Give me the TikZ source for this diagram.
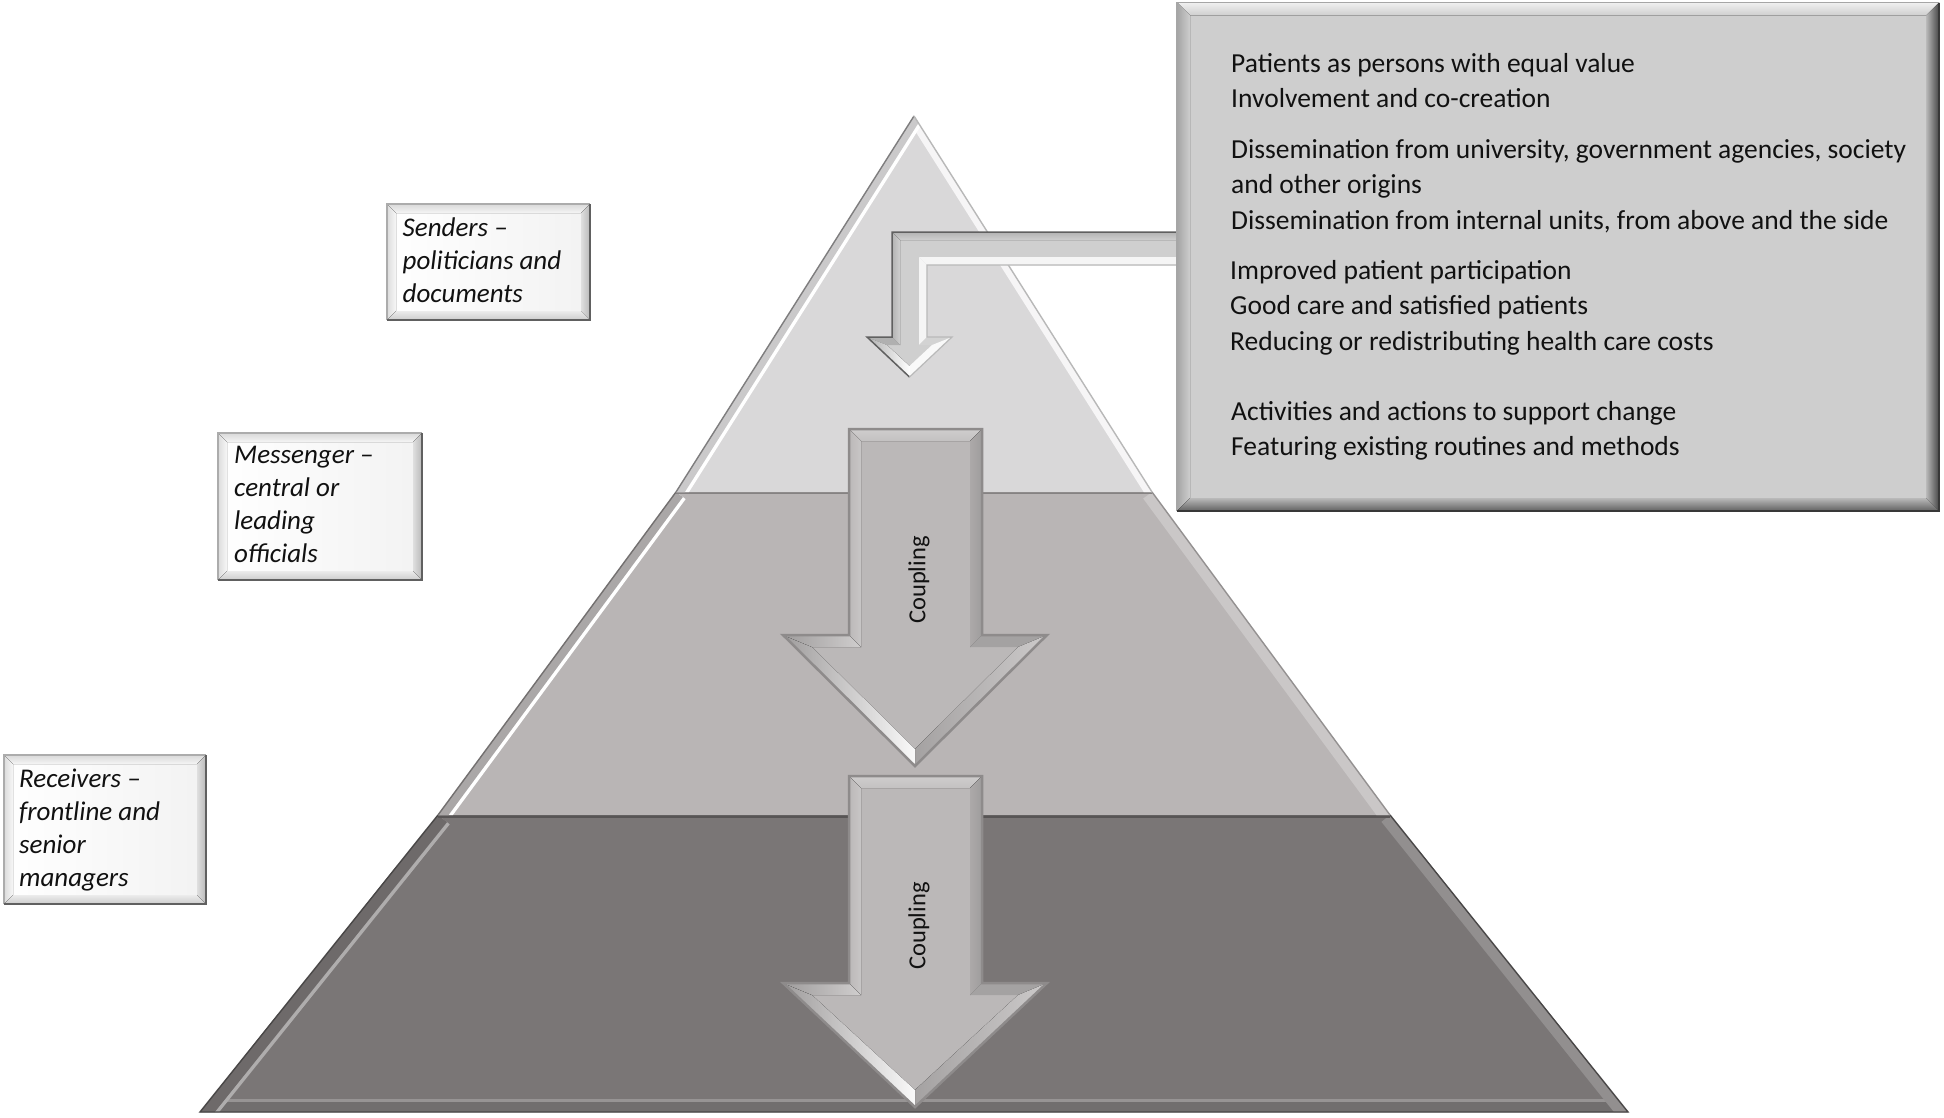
\documentclass[tikz,border=0pt]{standalone}
\usepackage{fontspec}
\setmainfont{Carlito}
\usetikzlibrary{calc}
\definecolor{tierA}{HTML}{D9D8D9}
\definecolor{tierB}{HTML}{B9B5B5}
\definecolor{tierC}{HTML}{7A7676}
\definecolor{boxface}{HTML}{CECECE}
\definecolor{bentface}{HTML}{CFCFCF}
\definecolor{arrface}{HTML}{BBB8B8}
\definecolor{arrline}{HTML}{8E8B8B}
\definecolor{inktext}{HTML}{111111}

% bevelled rectangle: x1 y1 (top-left) x2 y2 (bottom-right) d
\newcommand\bevelrect[5]{%
  \fill[bvface] (#1,#2) rectangle (#3,#4);
  \fill[bvtop] (#1,#2) -- (#3,#2) -- ({#3-#5},{#2+#5}) -- ({#1+#5},{#2+#5}) -- cycle;
  \fill[bvleft] (#1,#2) -- ({#1+#5},{#2+#5}) -- ({#1+#5},{#4-#5}) -- (#1,#4) -- cycle;
  \fill[bvright] (#3,#2) -- ({#3-#5},{#2+#5}) -- ({#3-#5},{#4-#5}) -- (#3,#4) -- cycle;
  \fill[bvbottom] (#1,#4) -- ({#1+#5},{#4-#5}) -- ({#3-#5},{#4-#5}) -- (#3,#4) -- cycle;
  \draw[bvlineA] (#1,#4) -- (#1,#2) -- (#3,#2);
  \draw[bvlineB] (#3,#2) -- (#3,#4) -- (#1,#4);
}

% coupling arrow: top, head base, tip
\newcommand\couplingarrow[3]{%
  \fill[arrface] (849,#1) -- (982,#1) -- (982,#2) -- (1047,#2) -- (915,#3) -- (783,#2) -- (849,#2) -- cycle;
  \fill[top color=arrface!70!white, bottom color=arrface!88!white] (849,#1) -- (982,#1) -- (970,{#1+12}) -- (861,{#1+12}) -- cycle;
  \fill[left color=arrface, middle color=white!96!arrface, right color=arrface!80!white] (849,#1) -- (861,{#1+12}) -- (861,{#2+12}) -- (849,#2) -- cycle;
  \fill[left color=arrface!92!black, right color=arrface!85!black] (982,#1) -- (970,{#1+12}) -- (970,{#2+12}) -- (982,#2) -- cycle;
  \fill[arrface!88!black] (982,#2) -- (1047,#2) -- (1018,{#2+12}) -- (970,{#2+12}) -- cycle;
  \fill[left color=arrface!88!black, right color=arrface!75!white] (1047,#2) -- (915,#3) -- (915,{#3-17}) -- (1018,{#2+12}) -- cycle;
  \fill[left color=arrface!85!black, right color=white!92!arrface] (783,#2) -- (915,#3) -- (915,{#3-17}) -- (812,{#2+12}) -- cycle;
  \fill[left color=arrface!85!black, right color=arrface!70!white] (783,#2) -- (849,#2) -- (861,{#2+12}) -- (812,{#2+12}) -- cycle;
  \draw[arrline, line width=2.5pt, line join=miter] (849,#1) -- (982,#1) -- (982,#2) -- (1047,#2) -- (915,#3) -- (783,#2) -- (849,#2) -- cycle;
}

\begin{document}
\begin{tikzpicture}[x=1pt,y=-1pt,
  labeltext/.style={anchor=base west, inner sep=0pt, font=\fontsize{27}{33}\selectfont\itshape, text=inktext},
  boxtext/.style={anchor=base west, inner sep=0pt, font=\fontsize{27.5}{35}\selectfont, text=inktext},
  couptext/.style={rotate=90, inner sep=0pt, font=\fontsize{24.5}{29}\selectfont, text=inktext},
  tierline/.style={line width=1.4pt, line join=miter},
]
\useasboundingbox (0,0) rectangle (1944,1117);
\fill[white] (0,0) rectangle (1944,1117);

% ---------- pyramid ----------
\coordinate (apex) at (914,116);
\coordinate (t1l) at (676,492);
\coordinate (t1r) at (1152,492);
\coordinate (t2l) at (438,815);
\coordinate (t2r) at (1390,815);
\coordinate (bl) at (200,1112);
\coordinate (br) at (1628,1112);

% tier 3 (bottom)
\begin{scope}
  \clip (t2l) -- (t2r) -- (br) -- (bl) -- cycle;
  \fill[tierC] (t2l) -- (t2r) -- (br) -- (bl) -- cycle;
  \draw[line width=26pt, tierC!78!white] (bl) -- (br);
  \draw[line width=20pt, tierC!93!black] (bl) -- (br);
  \draw[line width=22pt, tierC!82!white] (br) -- (t2r);
  \draw[line width=30pt, tierC!60!white] (bl) -- (t2l);
  \draw[line width=23pt, tierC!90!black] (bl) -- (t2l);
  \draw[line width=6pt, tierC!72!black] (t2l) -- (t2r);
\end{scope}
\draw[tierline, tierC!60!black] (t2l) -- (bl) -- (br) -- (t2r);

% tier 2 (middle)
\begin{scope}
  \clip (t1l) -- (t1r) -- (t2r) -- (t2l) -- cycle;
  \fill[tierB] (t1l) -- (t1r) -- (t2r) -- (t2l) -- cycle;
  \draw[line width=22pt, tierB!75!white] (t2r) -- (t1r);
  \draw[line width=24pt, white] (t2l) -- (t1l);
  \draw[line width=17pt, tierB!92!black] (t2l) -- (t1l);
  \draw[line width=4pt, tierB!72!black] (t1l) -- (t1r);
\end{scope}
\draw[tierline, tierB!62!black] (t1l) -- (t2l);
\draw[tierline, tierB!80!black] (t1r) -- (t2r);

% tier 1 (top)
\begin{scope}
  \clip (apex) -- (t1r) -- (t1l) -- cycle;
  \fill[tierA] (apex) -- (t1r) -- (t1l) -- cycle;
  \draw[line width=14pt, white!75!tierA] (t1r) -- (apex);
  \draw[line width=22pt, white] (t1l) -- (apex);
  \draw[line width=15pt, tierA!93!black] (t1l) -- (apex);
\end{scope}
\draw[tierline, tierA!58!black] (t1l) -- (apex);
\draw[tierline, tierA!85!black] (apex) -- (t1r);

% ---------- bent arrow from the box ----------
\fill[bentface] (1177,232) -- (892,232) -- (892,337) -- (867,337) -- (909.5,377) -- (952,337) -- (927,337) -- (927,265) -- (1177,265) -- cycle;
\fill[top color=gray!60, bottom color=bentface] (1177,232) -- (892,232) -- (900,240) -- (1177,240) -- cycle;
\fill[left color=gray!60, right color=bentface] (892,232) -- (900,240) -- (900,345) -- (892,337) -- cycle;
\fill[white!80!bentface] (1177,265) -- (927,265) -- (919,257) -- (1177,257) -- cycle;
\fill[white!80!bentface] (927,265) -- (919,257) -- (919,345) -- (927,337) -- cycle;
\fill[bentface!92!white] (927,337) -- (952,337) -- (932,345) -- (919,345) -- cycle;
\fill[white!88!bentface] (952,337) -- (909.5,377) -- (909.5,366) -- (932,345) -- cycle;
\fill[left color=bentface!85!black, right color=white] (867,337) -- (909.5,377) -- (909.5,366) -- (887,345) -- cycle;
\fill[bentface!85!black] (867,337) -- (892,337) -- (900,345) -- (887,345) -- cycle;
\draw[gray!75!black, line width=1.5pt, line join=miter] (1177,232) -- (892,232) -- (892,337) -- (867,337) -- (909.5,377);
\draw[gray!55, line width=1.2pt, line join=miter] (909.5,377) -- (952,337) -- (927,337) -- (927,265) -- (1177,265);

% ---------- big text box ----------
\begin{scope}[
  bvface/.style={fill=boxface},
  bvtop/.style={top color=white!70!boxface, bottom color=boxface},
  bvleft/.style={left color=boxface!80!black, right color=boxface},
  bvright/.style={left color=boxface!90!black, right color=black!72},
  bvbottom/.style={top color=boxface!90!black, bottom color=black!62},
  bvlineA/.style={draw=gray!70, line width=1.5pt},
  bvlineB/.style={draw=black!78, line width=1.5pt}]
  \bevelrect{1177}{2.5}{1939}{511}{13}
\end{scope}
\node[boxtext] (b1) at (1231,72.7) {Patients as persons with equal value};
\node[boxtext] (b2) at (1231,107.3) {Involvement and co-creation};
\node[boxtext] (b3) at (1231,158.5) {Dissemination from university, government agencies, society};
\node[boxtext] (b4) at (1231,193.5) {and other origins};
\node[boxtext] (b5) at (1231,229) {Dissemination from internal units, from above and the side};
\node[boxtext] (b6) at (1230,279.5) {Improved patient participation};
\node[boxtext] (b7) at (1230,314.5) {Good care and satisfied patients};
\node[boxtext] (b8) at (1230,350) {Reducing or redistributing health care costs};
\node[boxtext] (b9) at (1231,420.5) {Activities and actions to support change};
\node[boxtext] (b10) at (1231,455.5) {Featuring existing routines and methods};

% ---------- coupling arrows ----------
\couplingarrow{429}{635}{766}
\node[couptext] (cpl1) at (919,580) {Coupling};
\couplingarrow{776}{983}{1107}
\node[couptext] (cpl2) at (919,926) {Coupling};

% ---------- level labels ----------
\begin{scope}[
  bvface/.style={left color=white, right color=gray!10},
  bvtop/.style={top color=gray!30, bottom color=gray!8},
  bvleft/.style={left color=gray!28, right color=gray!6},
  bvright/.style={left color=gray!25, right color=gray!55},
  bvbottom/.style={top color=gray!15, bottom color=gray!40},
  bvlineA/.style={draw=gray!65, line width=1.5pt},
  bvlineB/.style={draw=gray!75!black, line width=1.8pt}]
  \bevelrect{387}{204}{590}{320}{9}
  \bevelrect{218}{433}{422}{580}{9}
  \bevelrect{4}{755}{206}{904}{9}
\end{scope}

\node[labeltext] (s1) at (402.5,236.5) {Senders –};
\node[labeltext] (s2) at (402.5,269.5) {politicians and};
\node[labeltext] (s3) at (402.5,302.5) {documents};

\node[labeltext] (m1) at (234,463.5) {Messenger –};
\node[labeltext] (m2) at (234,496.5) {central or};
\node[labeltext] (m3) at (234,529.5) {leading};
\node[labeltext] (m4) at (234,562.5) {officials};

\node[labeltext] (r1) at (19,787.5) {Receivers –};
\node[labeltext] (r2) at (19,820.5) {frontline and};
\node[labeltext] (r3) at (19,853.5) {senior};
\node[labeltext] (r4) at (19,886.5) {managers};
\end{tikzpicture}
\end{document}
